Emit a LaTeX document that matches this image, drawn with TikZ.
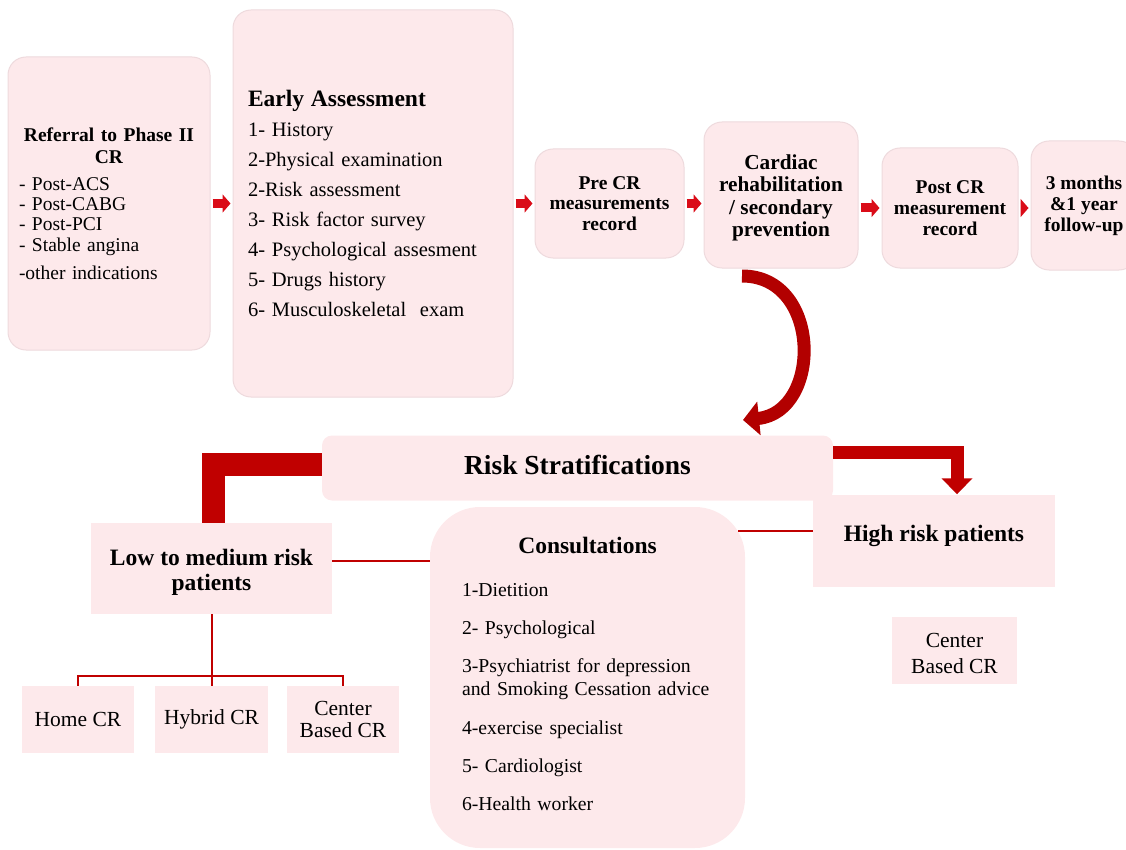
\documentclass[tikz,border=0pt]{standalone}
\usepackage{fontspec}
\setmainfont{Liberation Serif}
\usetikzlibrary{arrows.meta}
\definecolor{boxpink}{RGB}{253,233,235}
\definecolor{boxedge}{RGB}{238,218,221}
\definecolor{crred}{RGB}{192,0,0}
\definecolor{arrred}{RGB}{218,12,24}
\definecolor{curvered}{RGB}{178,0,0}

\begin{document}
\begin{tikzpicture}[x=1pt, y=-1pt,
    topbox/.style={draw=boxedge, line width=1pt, fill=boxpink, rounded corners=18pt, inner sep=0pt},
    flatbox/.style={fill=boxpink, inner sep=0pt},
    smallarr/.style={arrred, line width=9pt, -{Triangle[length=8pt,width=18pt]}, shorten <=2pt, shorten >=2pt},
    thinred/.style={crred, line width=1.1pt},
    treeline/.style={crred, line width=2pt}]
%   \draw[help lines] (0,0) grid[step=50] (1126,850);
    \useasboundingbox (0,0) rectangle (1126,850);
    \clip (0,0) rectangle (1126,850);
    % top row
    \node[topbox, minimum width=202pt, minimum height=293pt, text width=180pt, align=left, font=\fontsize{19.5}{20.3}\selectfont] (referral) at (109,203.5)
        {{\centering\bfseries\fontsize{19.5}{22}\selectfont Referral to Phase II\\ CR\par}\vspace{7pt}
         - Post-ACS\\ - Post-CABG\\ - Post-PCI\\ - Stable angina\\[8pt] -other indications};
    \node[topbox, minimum width=280pt, minimum height=387pt, text width=250pt, align=left, font=\fontsize{20.5}{30}\selectfont] (early) at (373,203.5)
        {{\bfseries\fontsize{23.5}{30}\selectfont Early Assessment}\\ 1- History\\ 2-Physical examination\\ 2-Risk assessment\\ 3- Risk factor survey\\ 4- Psychological assesment\\ 5- Drugs history\\ 6- Musculoskeletal\ \ exam};
    \node[topbox, minimum width=149pt, minimum height=109pt, align=center, font=\bfseries\fontsize{19.5}{20.5}\selectfont] (precr) at (609.5,203.5) {Pre CR\\ measurements\\ record};
    \node[topbox, minimum width=154pt, minimum height=146pt, align=center, font=\bfseries\fontsize{21.3}{22.5}\selectfont] (cardiac) at (781,195) {\rule{0pt}{20.5pt}Cardiac\\ rehabilitation\\ / secondary\\ prevention};
    \node[topbox, minimum width=136pt, minimum height=120pt, align=center, font=\bfseries\fontsize{19.5}{21}\selectfont] (postcr) at (950,208) {Post CR\\ measurement\\ record};
    \node[topbox, minimum width=106pt, minimum height=129pt, align=center, font=\bfseries\fontsize{19.5}{21}\selectfont] (followup) at (1084,205.5) {3 months\\ \&1 year\\ follow-up};
    \draw[smallarr] (referral) -- (early);
    \draw[smallarr] (early) -- (precr);
    \draw[smallarr] (precr.east) -- (precr.east -| cardiac.west);
    \draw[smallarr] (cardiac.east |- postcr.east) -- (postcr.west);
    \draw[smallarr] (postcr.east) -- (postcr.east -| followup.west);
    % curved arrow down to the stratification
    \coordinate (curvetop) at (742,276);
    \coordinate (curvetip) at (743,420);
    \draw[curvered, line width=13pt, -{Triangle[length=16pt,width=33pt]}] (curvetop) .. controls (822,276) and (822,412) .. (curvetip);
    % stratification
    \node[fill=boxpink, rounded corners=10pt, minimum width=511pt, minimum height=65pt, text depth=6pt, font=\bfseries\fontsize{27.5}{30}\selectfont] (risk) at (577.5,468) {Risk Stratifications};
    \node[flatbox, minimum width=241pt, minimum height=91pt, align=center, font=\bfseries\fontsize{23.5}{25}\selectfont] (lowrisk) at (211.5,568.5) {\rule{0pt}{23pt}Low to medium risk\\ patients};
    \node[flatbox, minimum width=242pt, minimum height=92pt, text depth=14pt, font=\bfseries\fontsize{23.5}{25}\selectfont] (highrisk) at (934,540.5) {High risk patients};
    \draw[crred, line width=23pt] ([yshift=3.5pt]risk.west) -| ([xshift=1.5pt]lowrisk.north);
    \draw[crred, line width=13pt, -{Triangle[length=16pt,width=30pt]}] ([yshift=15.5pt]risk.east) -| ([xshift=23pt]highrisk.north);
    % consultations
    \node[fill=boxpink, rounded corners=50pt, minimum width=315pt, minimum height=341pt, text width=251pt, align=left, font=\fontsize{19.7}{23}\selectfont] (consult) at (587.5,677.5)
        {{\centering\bfseries\fontsize{23.5}{25}\selectfont Consultations\par}\vspace{20pt}
         1-Dietition\\[15pt] 2- Psychological\\[15pt] 3-Psychiatrist for depression\\ and Smoking Cessation advice\\[16pt] 4-exercise specialist\\[15pt] 5- Cardiologist\\[15pt] 6-Health worker\rule[-7pt]{0pt}{7pt}};
    \coordinate (consultedge) at (738,531);
    \draw[thinred] ([yshift=7.5pt]lowrisk.east) -- ([yshift=7.5pt]lowrisk.east -| consult.west);
    \draw[thinred] ([yshift=9.5pt]highrisk.west) -- (consultedge);
    % settings
    \node[flatbox, minimum width=112pt, minimum height=67pt, font=\fontsize{21.5}{22}\selectfont] (homecr) at (78,719.5) {Home CR};
    \node[flatbox, minimum width=113pt, minimum height=67pt, font=\fontsize{21.5}{22}\selectfont] (hybridcr) at (211.5,719.5) {Hybrid CR};
    \node[flatbox, minimum width=112pt, minimum height=67pt, align=center, font=\fontsize{21.5}{22}\selectfont] (centerlow) at (343,719.5) {Center\\ Based CR};
    \node[flatbox, minimum width=125pt, minimum height=67pt, align=center, font=\fontsize{21.5}{26}\selectfont] (centerhigh) at (954.5,650.5) {\rule{0pt}{21pt}Center\\ Based CR};
    \coordinate (treejoint) at (211.5,676);
    \draw[treeline] (lowrisk) -- (treejoint);
    \draw[treeline] (treejoint) -| (homecr);
    \draw[treeline] (treejoint) -| (centerlow);
    \draw[treeline] (treejoint) -- (hybridcr);
\end{tikzpicture}
\end{document}
